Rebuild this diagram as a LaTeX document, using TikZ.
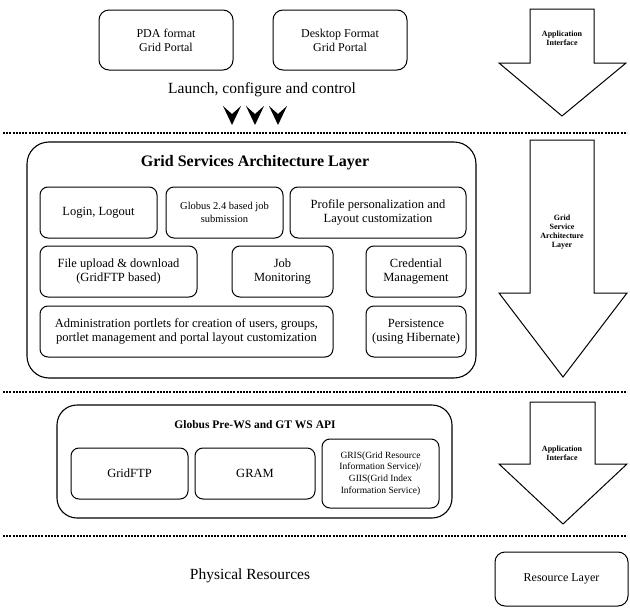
\documentclass[tikz,border=0pt]{standalone}
\usepackage{fontspec}
\setmainfont{Liberation Serif}
\begin{document}
\begin{tikzpicture}[x=1pt,y=-1pt,
  box/.style={draw, rounded corners=8pt, line width=1pt, align=center, font=\fontsize{12.5}{14}\selectfont, inner sep=2pt},
  topbox/.style={box, rounded corners=10pt, font=\fontsize{12}{14}\selectfont},
  bigbox/.style={draw, rounded corners=22pt, line width=1.1pt},
  sep/.style={line width=2pt, dash pattern=on 2pt off 1.2pt},
  fatarrow/.style={draw, line width=1pt, fill=white, line join=miter},
  arrowtext/.style={font=\bfseries\fontsize{8}{9}\selectfont, align=center},
  bigtext/.style={font=\fontsize{15.5}{18}\selectfont}
]
\useasboundingbox (0,0) rectangle (630,608);

% top portals
\node[topbox, minimum width=134pt, minimum height=60pt] (pda) at (166,40) {PDA format\\Grid Portal};
\node[topbox, minimum width=134pt, minimum height=60pt] (desk) at (340,40) {Desktop Format\\Grid Portal};
\node[bigtext] (launch) at (262,90) {Launch, configure and control};
\foreach \x/\n in {232/c1,255/c2,278/c3}{
  \fill (\x-9,106) -- (\x,125) -- (\x+9,106) -- (\x,114) -- cycle;
}

% separators
\coordinate (s1l) at (3,133); \coordinate (s1r) at (627,133);
\coordinate (s2l) at (3,392); \coordinate (s2r) at (627,392);
\coordinate (s3l) at (3,536); \coordinate (s3r) at (627,536);
\draw[sep] (s1l) -- (s1r);
\draw[sep] (s2l) -- (s2r);
\draw[sep] (s3l) -- (s3r);

% right side fat arrows
\draw[fatarrow] (530,9) -- (594,9) -- (594,63) -- (626,63) -- (562,116) -- (499,63) -- (530,63) -- cycle;
\node[arrowtext] (ai1) at (562,38) {Application\\Interface};
\draw[fatarrow] (530,140) -- (594,140) -- (594,293) -- (627,293) -- (563,377) -- (499,293) -- (530,293) -- cycle;
\node[arrowtext] (gsal) at (562,232) {Grid\\Service\\Architecture\\Layer};
\draw[fatarrow] (530,402) -- (595,402) -- (595,464) -- (627,464) -- (563,524) -- (499,464) -- (530,464) -- cycle;
\node[arrowtext] (ai2) at (562,453) {Application\\Interface};

% Grid services architecture layer
\node[bigbox, minimum width=449pt, minimum height=236pt] (gsa) at (251.5,260) {};
\node[font=\bfseries\fontsize{16}{18}\selectfont] (gsat) at (255,163) {Grid Services Architecture Layer};
\node[box, minimum width=117pt, minimum height=51pt] (login) at (98.5,212.5) {Login, Logout};
\node[box, minimum width=117pt, minimum height=51pt, font=\fontsize{10.5}{12.5}\selectfont] (g24) at (224.5,212.5) {Globus 2.4 based job\\submission};
\node[box, minimum width=176pt, minimum height=51pt] (prof) at (378,212.5) {Profile personalization and\\Layout customization};
\node[box, minimum width=157pt, minimum height=51pt] (file) at (118.5,271.5) {File upload \& download\\(GridFTP based)};
\node[box, minimum width=101pt, minimum height=51pt] (job) at (282.5,271.5) {Job\\Monitoring};
\node[box, minimum width=100pt, minimum height=51pt] (cred) at (416,271.5) {Credential\\Management};
\node[box, minimum width=293pt, minimum height=51pt] (admin) at (186.5,331.5) {Administration portlets for creation of users, groups,\\portlet management and portal layout customization};
\node[box, minimum width=100pt, minimum height=51pt] (pers) at (416,331.5) {Persistence\\(using Hibernate)};

% Globus API layer
\node[bigbox, rounded corners=20pt, minimum width=395pt, minimum height=113pt] (gapi) at (254.5,461.5) {};
\node[font=\bfseries\fontsize{11.5}{13}\selectfont] (gapit) at (255,425) {Globus Pre-WS and GT WS API};
\node[box, minimum width=117pt, minimum height=51pt] (ftp) at (129.5,473.5) {GridFTP};
\node[box, minimum width=120pt, minimum height=51pt] (gram) at (255,473.5) {GRAM};
\node[box, minimum width=117pt, minimum height=69pt, font=\fontsize{9.5}{11.7}\selectfont] (gris) at (380.5,473.5) {GRIS(Grid Resource\\Information Service)/\\GIIS(Grid Index\\Information Service)};

% resources
\node[bigtext] (phys) at (250,576) {Physical Resources};
\node[box, rounded corners=10pt, minimum width=133pt, minimum height=54pt, font=\fontsize{12}{14}\selectfont] (rl) at (561.5,579) {Resource Layer};
\end{tikzpicture}
\end{document}
